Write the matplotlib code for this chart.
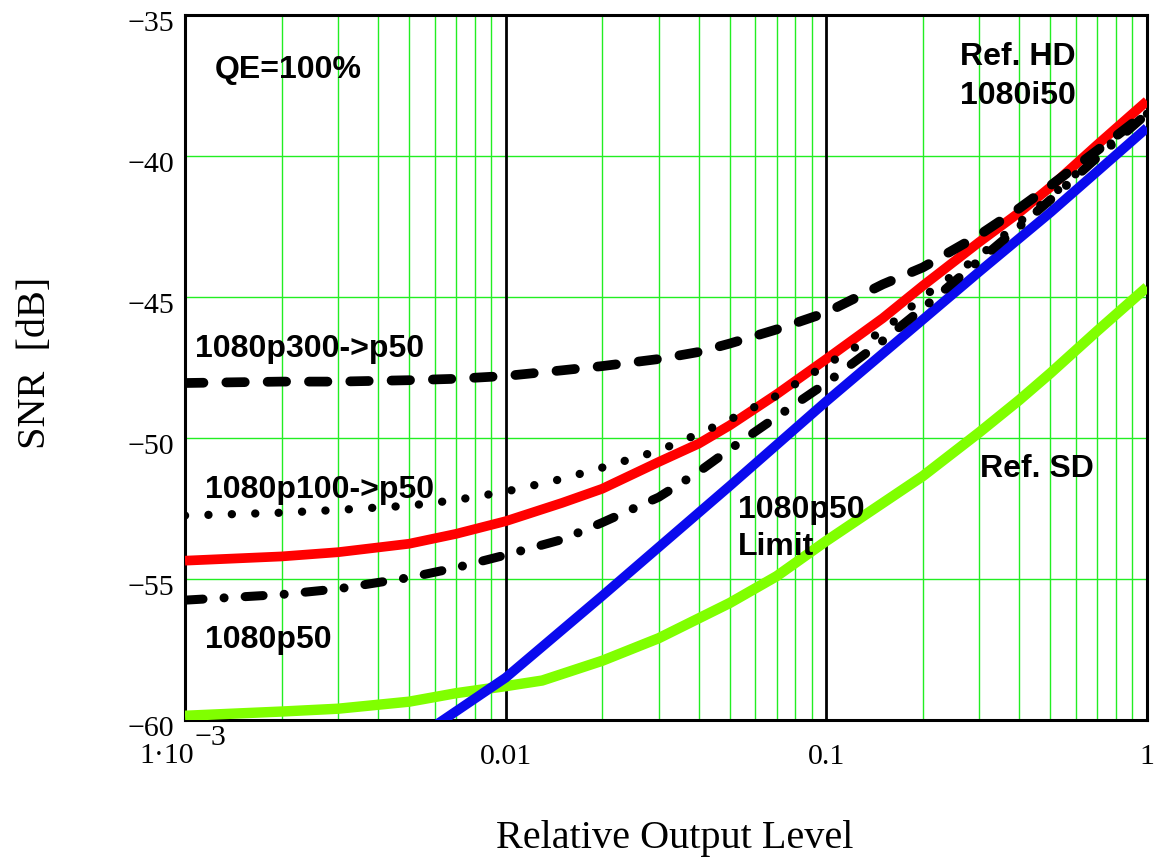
import numpy as np
import matplotlib
matplotlib.use("Agg")
import matplotlib.pyplot as plt
from matplotlib.ticker import FixedLocator, NullFormatter
from matplotlib.transforms import ScaledTranslation

# relative output level (x) and SNR in dB for each curve
x_ref = [0.001, 0.002, 0.003, 0.005, 0.007, 0.01, 0.015, 0.02, 0.03, 0.04, 0.05,
         0.07, 0.1, 0.15, 0.2, 0.3, 0.4, 0.5, 0.7, 1.0]
snr_hd = [-54.35, -54.2, -54.05, -53.75, -53.4, -52.95, -52.3, -51.8, -50.85, -50.2, -49.55,
          -48.45, -47.2, -45.75, -44.6, -43.05, -42.0, -41.1, -39.6, -38.05]
snr_p300 = [-48.05, -48.0, -48.0, -47.95, -47.9, -47.8, -47.6, -47.45, -47.2, -46.95, -46.65,
            -46.15, -45.55, -44.55, -43.95, -42.8, -41.85, -41.05, -39.8, -38.45]
snr_p100 = [-52.75, -52.65, -52.55, -52.4, -52.2, -51.9, -51.45, -51.05, -50.45, -49.85, -49.35,
            -48.5, -47.4, -46.2, -45.0, -43.55, -42.35, -41.45, -39.95, -38.5]
snr_p50 = [-55.75, -55.55, -55.35, -54.95, -54.6, -54.15, -53.6, -53.0, -52.1, -51.2, -50.4,
           -49.25, -48.05, -46.55, -45.4, -43.7, -42.5, -41.55, -40.05, -38.5]

x_sd = [0.001, 0.002, 0.003, 0.005, 0.007, 0.01, 0.013, 0.02, 0.03, 0.05, 0.07,
        0.1, 0.2, 0.3, 0.4, 0.5, 0.7, 1.0]
snr_sd = [-59.85, -59.7, -59.6, -59.35, -59.05, -58.8, -58.6, -57.9, -57.1, -55.85, -54.9,
          -53.65, -51.35, -49.8, -48.65, -47.7, -46.2, -44.65]

x_limit = [0.0055, 0.01, 0.02, 0.05, 0.1, 0.2, 0.3, 0.5, 1.0]
snr_limit = [-60.5, -58.5, -55.6, -51.7, -48.7, -45.8, -44.1, -42.0, -39.0]

W, H = 1154, 858
fig = plt.figure(figsize=(W / 100, H / 100), dpi=100)
ax = fig.add_axes([185 / W, 1 - 720 / H, (1147 - 185) / W, (720 - 15) / H])


def fx(px):
    return px / W


def fy(py):
    return 1 - py / H


ax.set_xscale('log')
ax.set_xlim(1e-3, 1)
ax.set_ylim(-60, -35)

# grid
grid_green = '#22ee22'
ax.xaxis.set_minor_locator(FixedLocator([m * 10.0 ** e for e in (-3, -2, -1) for m in range(2, 10)]))
ax.xaxis.set_minor_formatter(NullFormatter())
ax.grid(which='minor', axis='x', color=grid_green, lw=1.0)
ax.set_yticks([-60, -55, -50, -45, -40, -35])
ax.grid(which='major', axis='y', color=grid_green, lw=1.0)
for xv in (0.01, 0.1):
    ax.axvline(xv, color='black', lw=2.0, zorder=1.5)
ax.set_axisbelow(True)

for s in ax.spines.values():
    s.set_color('black')
    s.set_linewidth(2.2)

ax.plot(x_sd, snr_sd, color='#80ff00', lw=7.5, solid_capstyle='butt', zorder=3)
ax.plot(x_ref, snr_hd, color='#ff0000', lw=7, solid_capstyle='butt', zorder=3)
ax.plot(x_limit, snr_limit, color='#0a0aee', lw=7, solid_capstyle='butt', zorder=3)
ax.plot(x_ref, snr_p300, color='black', lw=7, dashes=(1.9, 2.35),
        dash_capstyle='round', zorder=4)
ax.plot(x_ref, snr_p100, color='black', lw=6, dashes=(0.01, 2.8),
        dash_capstyle='round', zorder=4)
ax.plot(x_ref, snr_p50, color='black', lw=6.5, dashes=(2.0, 2.33, 0.01, 2.33),
        dash_capstyle='round', zorder=4)

# ticks
serif = 'Liberation Serif'
tick_fs = 21.5
ax.tick_params(which='both', length=0)
ax.set_xticks([0.001, 0.01, 0.1, 1])
ax.set_xticklabels(['', '0.01', '0.1', '1'], family=serif, fontsize=tick_fs)
ax.tick_params(axis='x', pad=17)
ax.set_yticklabels(['\u221260', '\u221255', '\u221250', '\u221245', '\u221240', '\u221235'],
                   family=serif, fontsize=tick_fs)
ax.tick_params(axis='y', pad=8)
for lab in ax.get_yticklabels():
    lab.set_transform(lab.get_transform() + ScaledTranslation(0, -4 / 72, fig.dpi_scale_trans))
fig.text(fx(167), fy(763), '1\u00b710', family=serif, fontsize=tick_fs, ha='center', va='baseline')
fig.text(fx(195), fy(745), '\u22123', family=serif, fontsize=tick_fs, ha='left', va='baseline')

fig.text(fx(675), fy(848), 'Relative Output Level', family=serif, fontsize=29,
         ha='center', va='baseline')
fig.text(fx(35), fy(363), 'SNR  [dB]', family=serif, fontsize=29,
         ha='center', va='center', rotation=90)

# annotations
sans = 'Liberation Sans'
notes = [
    (215, 78, 'QE=100%'),
    (960, 65, 'Ref. HD'),
    (960, 104, '1080i50'),
    (195, 357, '1080p300->p50'),
    (205, 498, '1080p100->p50'),
    (205, 648, '1080p50'),
    (738, 518, '1080p50'),
    (738, 555, 'Limit'),
    (980, 477, 'Ref. SD'),
]
for px, py, txt in notes:
    fig.text(fx(px), fy(py), txt, family=sans, fontweight='bold', fontsize=23,
             ha='left', va='baseline', zorder=6)

fig.savefig('out.png', dpi=100)
